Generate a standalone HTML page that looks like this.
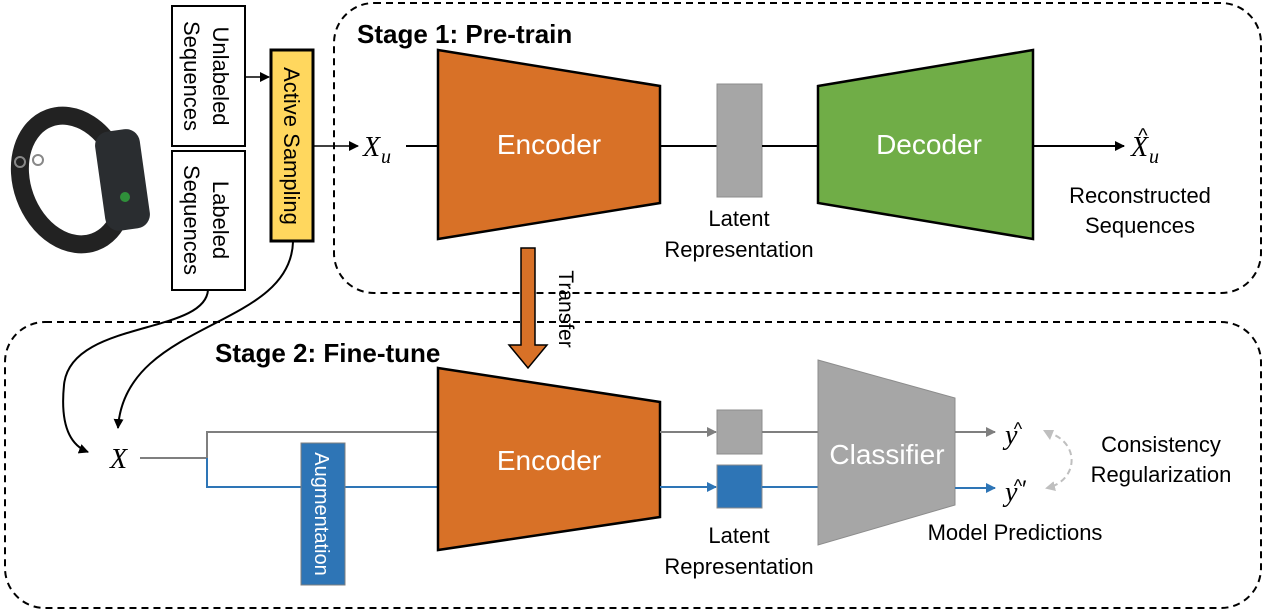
<!DOCTYPE html>
<html><head><meta charset="utf-8"><style>
html,body{margin:0;padding:0;background:#fff}
svg{display:block}
text{font-family:"Liberation Sans",sans-serif}
.m{font-family:"Liberation Serif",serif;font-style:italic}
</style></head><body>
<svg width="1268" height="614" viewBox="0 0 1268 614" xmlns="http://www.w3.org/2000/svg">
<defs>
<marker id="ab" markerWidth="10" markerHeight="10" refX="9" refY="5" orient="auto" markerUnits="userSpaceOnUse"><path d="M0,0 L10,5 L0,10 z" fill="#000"/></marker>
<marker id="ag" markerWidth="10" markerHeight="10" refX="9" refY="5" orient="auto" markerUnits="userSpaceOnUse"><path d="M0,0 L10,5 L0,10 z" fill="#7f7f7f"/></marker>
<marker id="au" markerWidth="10" markerHeight="10" refX="9" refY="5" orient="auto" markerUnits="userSpaceOnUse"><path d="M0,0 L10,5 L0,10 z" fill="#2E75B6"/></marker>
<marker id="ad" markerWidth="10" markerHeight="10" refX="8" refY="5" orient="auto" markerUnits="userSpaceOnUse"><path d="M0,0 L10,5 L0,10 z" fill="#bfbfbf"/></marker>
</defs>
<rect x="334" y="3" width="927" height="290" rx="40" fill="none" stroke="#000" stroke-width="2" stroke-dasharray="7,5"/>
<rect x="5" y="322" width="1256" height="286" rx="40" fill="none" stroke="#000" stroke-width="2" stroke-dasharray="7,5"/>
<text x="357" y="43" font-size="26" font-weight="bold">Stage 1: Pre-train</text>
<text x="215" y="362" font-size="26" font-weight="bold">Stage 2: Fine-tune</text>
<!-- wristband -->
<g>
<ellipse cx="72" cy="180" rx="50" ry="66" fill="none" stroke="#222" stroke-width="18" transform="rotate(-20 72 180)"/>
<rect x="100" y="130" width="45" height="100" rx="14" fill="#2a2d30" transform="rotate(-8 122 180)"/>
<circle cx="125" cy="197" r="5" fill="#2f8f3a"/>
<circle cx="20" cy="162" r="5" fill="none" stroke="#888" stroke-width="2"/>
<circle cx="38" cy="160" r="5" fill="none" stroke="#888" stroke-width="2"/>
</g>
<rect x="172" y="6" width="73" height="140" fill="#fff" stroke="#000" stroke-width="2"/>
<rect x="172" y="151" width="73" height="139" fill="#fff" stroke="#000" stroke-width="2"/>
<text transform="translate(213,76) rotate(90)" text-anchor="middle" font-size="22">Unlabeled</text>
<text transform="translate(184,76) rotate(90)" text-anchor="middle" font-size="22">Sequences</text>
<text transform="translate(213,220) rotate(90)" text-anchor="middle" font-size="22">Labeled</text>
<text transform="translate(184,220) rotate(90)" text-anchor="middle" font-size="22">Sequences</text>
<rect x="271" y="50" width="42" height="191" fill="#FFD75E" stroke="#000" stroke-width="3"/>
<text transform="translate(284,146) rotate(90)" text-anchor="middle" font-size="22">Active Sampling</text>
<line x1="245" y1="77" x2="269" y2="77" stroke="#000" stroke-width="1.5" marker-end="url(#ab)"/>
<line x1="313" y1="146" x2="358" y2="146" stroke="#000" stroke-width="1.5" marker-end="url(#ab)"/>
<text x="363" y="156" font-size="28" class="m">X</text><text x="381" y="163" font-size="20" class="m">u</text>
<line x1="406" y1="146" x2="438" y2="146" stroke="#000" stroke-width="2"/>
<polygon points="438,50 660,86 660,203 438,239" fill="#D87127" stroke="#000" stroke-width="2.5"/>
<text x="549" y="154" text-anchor="middle" font-size="28" fill="#fff">Encoder</text>
<line x1="660" y1="146" x2="717" y2="146" stroke="#000" stroke-width="2"/>
<rect x="717" y="84" width="45" height="113" fill="#A6A6A6" stroke="#8c8c8c"/>
<line x1="762" y1="146" x2="818" y2="146" stroke="#000" stroke-width="2"/>
<polygon points="818,86 1033,50 1033,239 818,203" fill="#70AD47" stroke="#000" stroke-width="2.5"/>
<text x="929" y="154" text-anchor="middle" font-size="28" fill="#fff">Decoder</text>
<line x1="1033" y1="146" x2="1124" y2="146" stroke="#000" stroke-width="2" marker-end="url(#ab)"/>
<text x="1131" y="156" font-size="28" class="m">X</text><text x="1143" y="142" font-size="20" text-anchor="middle">^</text><text x="1149" y="163" font-size="20" class="m">u</text>
<text x="1140" y="203" text-anchor="middle" font-size="22">Reconstructed</text>
<text x="1140" y="233" text-anchor="middle" font-size="22">Sequences</text>
<text x="739" y="226" text-anchor="middle" font-size="22">Latent</text>
<text x="739" y="257" text-anchor="middle" font-size="22">Representation</text>
<polygon points="521,248 535,248 535,345 547,345 528,368 509,345 521,345" fill="#D87127" stroke="#000" stroke-width="1.5"/>
<text transform="translate(559,309) rotate(90)" text-anchor="middle" font-size="21">Transfer</text>
<path d="M208,290 C205,335 70,320 64,385 C60,425 70,445 88,452" fill="none" stroke="#000" stroke-width="2" marker-end="url(#ab)"/>
<path d="M293,242 C290,330 125,320 118,428" fill="none" stroke="#000" stroke-width="2" marker-end="url(#ab)"/>
<text x="110" y="468" font-size="28" class="m">X</text>
<polyline points="140,458 207,458 207,432 438,432" fill="none" stroke="#7f7f7f" stroke-width="2"/>
<polyline points="207,458 207,487 438,487" fill="none" stroke="#2E75B6" stroke-width="2"/>
<rect x="301" y="443" width="44" height="142" fill="#2E75B6" stroke="#7f7f7f"/>
<text transform="translate(315,514) rotate(90)" text-anchor="middle" font-size="20" fill="#fff">Augmentation</text>
<polygon points="438,368 660,402 660,517 438,550" fill="#D87127" stroke="#000" stroke-width="2.5"/>
<text x="549" y="470" text-anchor="middle" font-size="28" fill="#fff">Encoder</text>
<line x1="660" y1="432" x2="716" y2="432" stroke="#7f7f7f" stroke-width="2" marker-end="url(#ag)"/>
<line x1="660" y1="487" x2="716" y2="487" stroke="#2E75B6" stroke-width="2" marker-end="url(#au)"/>
<rect x="717" y="410" width="45" height="44" fill="#A6A6A6" stroke="#8c8c8c"/>
<rect x="717" y="465" width="45" height="43" fill="#2E75B6" stroke="#8c8c8c"/>
<line x1="762" y1="432" x2="818" y2="432" stroke="#7f7f7f" stroke-width="2"/>
<line x1="762" y1="487" x2="818" y2="487" stroke="#2E75B6" stroke-width="2"/>
<polygon points="818,360 955,398 955,505 818,545" fill="#A6A6A6" stroke="#8c8c8c"/>
<text x="887" y="464" text-anchor="middle" font-size="28" fill="#fff">Classifier</text>
<line x1="955" y1="432" x2="995" y2="432" stroke="#7f7f7f" stroke-width="2" marker-end="url(#ag)"/>
<line x1="955" y1="488" x2="995" y2="488" stroke="#2E75B6" stroke-width="2" marker-end="url(#au)"/>
<text x="1005" y="444" font-size="28" class="m">y</text><text x="1018" y="435" font-size="18" text-anchor="middle">^</text>
<text x="1005" y="501" font-size="28" class="m">y</text><text x="1018" y="492" font-size="18" text-anchor="middle">^</text><text x="1022" y="497" font-size="24" font-family="Liberation Serif">′</text>
<path d="M1046,432 C1080,440 1080,480 1047,488" fill="none" stroke="#bfbfbf" stroke-width="2" stroke-dasharray="6,4" marker-end="url(#ad)"/>
<polygon points="1043,430 1054,430 1050,440" fill="#bfbfbf"/>
<text x="1161" y="452" text-anchor="middle" font-size="22">Consistency</text>
<text x="1161" y="482" text-anchor="middle" font-size="22">Regularization</text>
<text x="1015" y="540" text-anchor="middle" font-size="22">Model Predictions</text>
<text x="739" y="543" text-anchor="middle" font-size="22">Latent</text>
<text x="739" y="574" text-anchor="middle" font-size="22">Representation</text>
</svg>
</body></html>
